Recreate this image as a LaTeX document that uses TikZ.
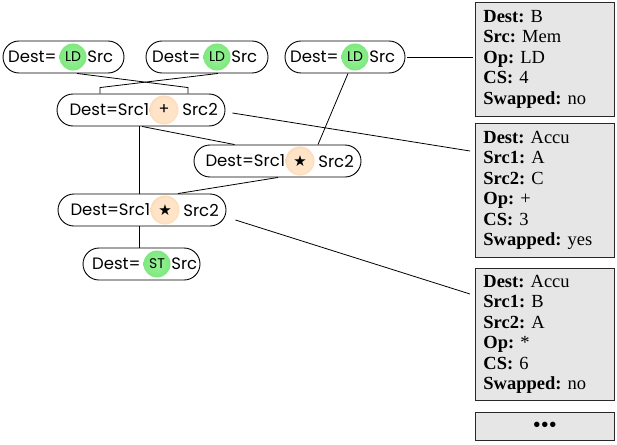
\documentclass[tikz,border=0pt]{standalone}
\usepackage{fontspec}
\setmainfont{Liberation Serif}
\newfontfamily\geo{Poppins}
\newfontfamily\djv{DejaVu Sans}
\usetikzlibrary{calc}
\definecolor{boxfill}{RGB}{230,230,230}
\definecolor{boxline}{RGB}{40,40,40}
\definecolor{gA}{RGB}{150,242,150}
\definecolor{gB}{RGB}{112,226,112}
\definecolor{gC}{RGB}{185,244,185}
\definecolor{oA}{RGB}{255,228,200}
\definecolor{oB}{RGB}{247,190,140}
\definecolor{oC}{RGB}{251,220,192}
\pgfdeclareradialshading{greenglow}{\pgfpoint{0bp}{0bp}}{color(0bp)=(gA); color(40bp)=(gB); color(46bp)=(gC); color(50bp)=(white)}
\pgfdeclareradialshading{orangeglow}{\pgfpoint{0bp}{0bp}}{color(0bp)=(oA); color(20bp)=(oA); color(39bp)=(oB); color(45bp)=(oC); color(50bp)=(white)}
\tikzset{
  pill/.style={draw, line width=0.9pt, rounded corners=16pt, minimum height=32pt, inner sep=0pt, fill=white},
  opg/.style={circle, shading=greenglow, minimum size=27pt, inner sep=0pt, font=\geo\fontsize{14}{14}\selectfont},
  opo/.style={circle, shading=orangeglow, minimum size=29pt, inner sep=0pt, font=\geo\fontsize{16}{16}\selectfont},
  txt/.style={inner sep=0pt, font=\geo\fontsize{16.5}{16.5}\selectfont},
  info/.style={draw=boxline, fill=boxfill, line width=0.8pt, anchor=north west, text width=123pt, align=left, inner xsep=8pt, inner ysep=0pt, font=\fontsize{18.5}{20.5}\selectfont\frenchspacing},
  conn/.style={line width=0.8pt}
}
\begin{document}
\begin{tikzpicture}[x=1pt,y=-1pt]
\useasboundingbox (0,0) rectangle (617,444);
% unary load nodes
\node[pill, minimum width=121pt] (n1) at (63.5,57) {};
\node[opg] (c1) at (73,57) {LD};
\node[txt, anchor=east] (d1) at ($(c1.west)+(-2.5,0)$) {Dest=};
\node[txt, anchor=west] (s1) at ($(c1.east)+(0.5,0)$) {Src};
\node[pill, minimum width=122pt] (n2) at (207,57) {};
\node[opg] (c2) at (217,57) {LD};
\node[txt, anchor=east] (d2) at ($(c2.west)+(-2.5,0)$) {Dest=};
\node[txt, anchor=west] (s2) at ($(c2.east)+(0.5,0)$) {Src};
\node[pill, minimum width=120pt] (n3) at (345,57) {};
\node[opg] (c3) at (355,57) {LD};
\node[txt, anchor=east] (d3) at ($(c3.west)+(-2.5,0)$) {Dest=};
\node[txt, anchor=west] (s3) at ($(c3.east)+(0.5,0)$) {Src};
% binary nodes
\node[pill, minimum width=168pt] (n4) at (141,110) {};
\node[opo] (c4) at (164,110) {+};
\node[txt, anchor=east] (d4) at ($(c4.west)+(0,0)$) {Dest=Src1};
\node[txt, anchor=west] (s4) at ($(c4.east)+(3.5,0)$) {Src2};
\node[pill, minimum width=167pt] (n5) at (277.5,161) {};
\node[opo] (c5) at (300,161) {\djv\fontsize{15}{15}\selectfont ★};
\node[txt, anchor=east] (d5) at ($(c5.west)+(0,0)$) {Dest=Src1};
\node[txt, anchor=west] (s5) at ($(c5.east)+(3.5,0)$) {Src2};
\node[pill, minimum width=168pt] (n6) at (142,210) {};
\node[opo] (c6) at (165,210) {\djv\fontsize{15}{15}\selectfont ★};
\node[txt, anchor=east] (d6) at ($(c6.west)+(0,0)$) {Dest=Src1};
\node[txt, anchor=west] (s6) at ($(c6.east)+(3.5,0)$) {Src2};
% store node
\node[pill, minimum width=117pt] (n7) at (141.5,264) {};
\node[opg] (c7) at (157,264) {ST};
\node[txt, anchor=east] (d7) at ($(c7.west)+(-2.5,0)$) {Dest=};
\node[txt, anchor=west] (s7) at ($(c7.east)+(0.5,0)$) {Src};
% info boxes
\node[info, minimum height=114pt] (b1) at (475,2) {\textbf{Dest:} B\\ \textbf{Src:} Mem\\ \textbf{Op:} LD\\ \textbf{CS:} 4\\ \textbf{Swapped:} no};
\node[info, minimum height=134pt] (b2) at (475,123) {\textbf{Dest:} Accu\\ \textbf{Src1:} A\\ \textbf{Src2:} C\\ \textbf{Op:} +\\ \textbf{CS:} 3\\ \textbf{Swapped:} yes};
\node[info, minimum height=132pt] (b3) at (475,268) {\textbf{Dest:} Accu\\ \textbf{Src1:} B\\ \textbf{Src2:} A\\ \textbf{Op:} *\\ \textbf{CS:} 6\\ \textbf{Swapped:} no};
\node[info, minimum height=28pt, align=center] (b4) at (475,412) {\fontsize{20}{20}\selectfont\textbf{•\kern1pt•\kern1pt•}};
% connectors
\draw[conn] ($(n1.south)+(13.5,0)$) -- ($(n4.north)+(47,-6)$) -- ($(n4.north)+(47,0)$);
\draw[conn] ($(n2.south)+(11,0)$) -- ($(n4.north)+(-41,-6)$) -- ($(n4.north)+(-41,0)$);
\draw[conn] ($(n3.south)+(3,0)$) -- ($(n5.north)+(40.5,0)$);
\draw[conn] ($(n4.south)+(-1.5,0)$) -- ($(n6.north)+(-2.5,0)$);
\draw[conn] ($(n4.south)+(1,0)$) -- ($(n5.north west)+(41,0)$);
\draw[conn] ($(n5.south)+(0.5,0)$) -- ($(n6.north)+(36,0)$);
\draw[conn] ($(n6.south)+(-2.5,0)$) -- ($(n7.north)+(-2,0)$);
\draw[conn, shorten <=2pt, shorten >=2pt] (n3.east) -- (n3.east -| b1.west);
\draw[conn] ($(n4.east)+(7,3)$) -- ($(b2.north west)+(-5,28)$);
\draw[conn] ($(n6.east)+(9,10)$) -- ($(b3.north west)+(-5,26)$);
\end{tikzpicture}
\end{document}
